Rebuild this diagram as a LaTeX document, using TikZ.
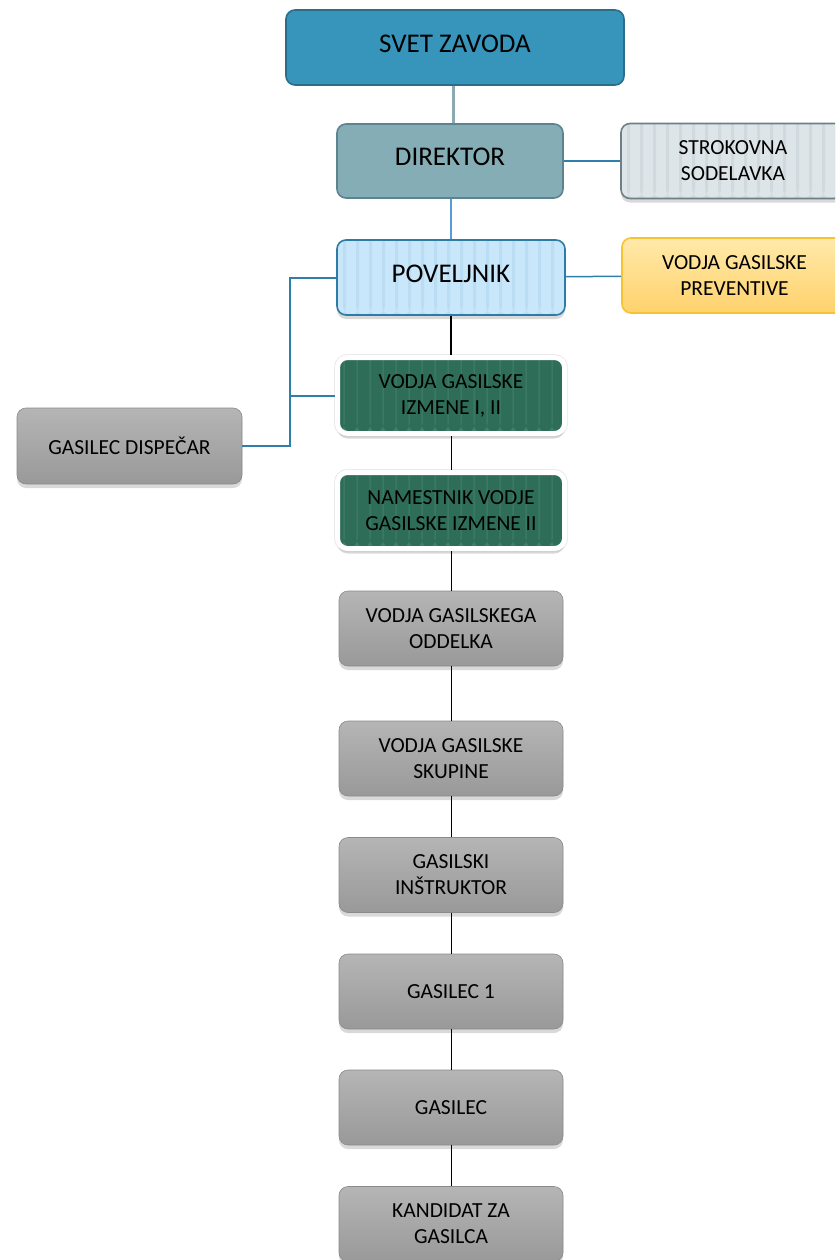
\documentclass[tikz,border=0pt]{standalone}
\usepackage{fontspec}
\setmainfont{Carlito}
\usetikzlibrary{shadows}
\definecolor{svetfill}{HTML}{3794BB}
\definecolor{svetline}{HTML}{2C6E8A}
\definecolor{dirfill}{HTML}{85ADB6}
\definecolor{dirline}{HTML}{5D8390}
\definecolor{strokfill}{HTML}{DDE5E8}
\definecolor{strokline}{HTML}{6E7F85}
\definecolor{strokstripe}{HTML}{D0DADE}
\definecolor{povfill}{HTML}{C9E7FB}
\definecolor{povline}{HTML}{2E7BA6}
\definecolor{povstripe}{HTML}{BBDDF3}
\definecolor{prevtop}{HTML}{FFE9AA}
\definecolor{prevbot}{HTML}{FFD26C}
\definecolor{prevline}{HTML}{F7C332}
\definecolor{izmfill}{HTML}{2E6E58}
\definecolor{izmstripe}{HTML}{427F69}
\definecolor{greytop}{HTML}{B5B5B5}
\definecolor{greybot}{HTML}{999999}
\definecolor{linkblue}{HTML}{2F80A8}
\definecolor{linkgrey}{HTML}{8DAAB3}
\definecolor{linklight}{HTML}{5B9BD5}
\begin{document}
\begin{tikzpicture}[x=1pt,y=-1pt,
  box/.style={rounded corners=9pt,align=center,inner sep=2pt,font=\fontsize{21.5}{26}\selectfont,
    minimum width=224pt,minimum height=75pt,line width=1.6pt},
  big/.style={box,font=\fontsize{27}{32}\selectfont,text depth=8pt},
  stripes/.style 2 args={path picture={\foreach \k in {0,...,17}{
    \fill[#1] ([xshift=\k*13pt+6pt]path picture bounding box.south west) rectangle ++(#2,90pt);}}},
  shade/.style={drop shadow={shadow xshift=0pt,shadow yshift=-4pt,opacity=.3}},
  greybox/.style={box,top color=greytop,bottom color=greybot,draw=greybot!90!black,line width=.6pt,shade},
  shiftbox/.style={box,fill=izmfill,draw=white,line width=5pt,minimum width=227pt,minimum height=76pt,
    rounded corners=10pt,stripes={izmstripe}{1pt},
    preaction={draw=black!8,line width=7pt},
    drop shadow={shadow xshift=0pt,shadow yshift=-5pt,opacity=.3}},
  edge/.style={line width=1pt,black},
  link/.style={line width=2pt,linkblue}]
\clip (0,0) rectangle (835,1260);
\node[big,fill=svetfill,draw=svetline,minimum width=338pt] (svet) at (455,47.5) {SVET ZAVODA};
\node[big,fill=dirfill,draw=dirline,minimum width=226pt,minimum height=74pt] (dir) at (450,161) {DIREKTOR};
\node[box,fill=strokfill,draw=strokline,stripes={strokstripe}{3pt},shade] (strok) at (733,161) {STROKOVNA\\SODELAVKA};
\node[big,fill=povfill,draw=povline,minimum width=228pt,stripes={povstripe}{3pt},shade] (pov) at (451,277.5) {POVELJNIK};
\node[box,top color=prevtop,bottom color=prevbot,draw=prevline,minimum width=225pt] (prev) at (734.5,275.5) {VODJA GASILSKE\\PREVENTIVE};
\node[shiftbox] (izm1) at (451,395.5) {VODJA GASILSKE\\IZMENE I, II};
\node[shiftbox] (izm2) at (451,510.5) {NAMESTNIK VODJE\\GASILSKE IZMENE II};
\node[greybox,minimum width=225pt,minimum height=76pt] (disp) at (129.5,446) {GASILEC DISPEČAR};
\node[greybox] (odd) at (451,628.5) {VODJA GASILSKEGA\\ODDELKA};
\node[greybox] (skup) at (451,758.5) {VODJA GASILSKE\\SKUPINE};
\node[greybox] (instr) at (451,875) {GASILSKI\\INŠTRUKTOR};
\node[greybox] (gas1) at (451,991.5) {GASILEC 1};
\node[greybox] (gas) at (451,1107.5) {GASILEC};
\node[greybox] (kand) at (451,1224) {KANDIDAT ZA\\GASILCA};
\coordinate (bus) at (290,0);
\draw[line width=3pt,linkgrey] (dir.north)++(3,0) coordinate (top) -- (top |- svet.south);
\draw[line width=2.5pt,linklight] (pov.north)--(pov.north |- dir.south);
\draw[link] (dir)--(strok);
\draw[link,line width=1.5pt] (pov)--(prev);
\draw[link] (pov.west)--(pov.west -| bus) |- (disp.east);
\draw[link] (izm1.west)--(izm1.west -| bus);
\draw[edge,line width=1.6pt] (pov)--(izm1);
\draw[edge] (izm1)--(izm2);
\draw[edge] (izm2)--(odd);
\draw[edge] (odd)--(skup);
\draw[edge] (skup)--(instr);
\draw[edge] (instr)--(gas1);
\draw[edge] (gas1)--(gas);
\draw[edge] (gas)--(kand);
\end{tikzpicture}
\end{document}
